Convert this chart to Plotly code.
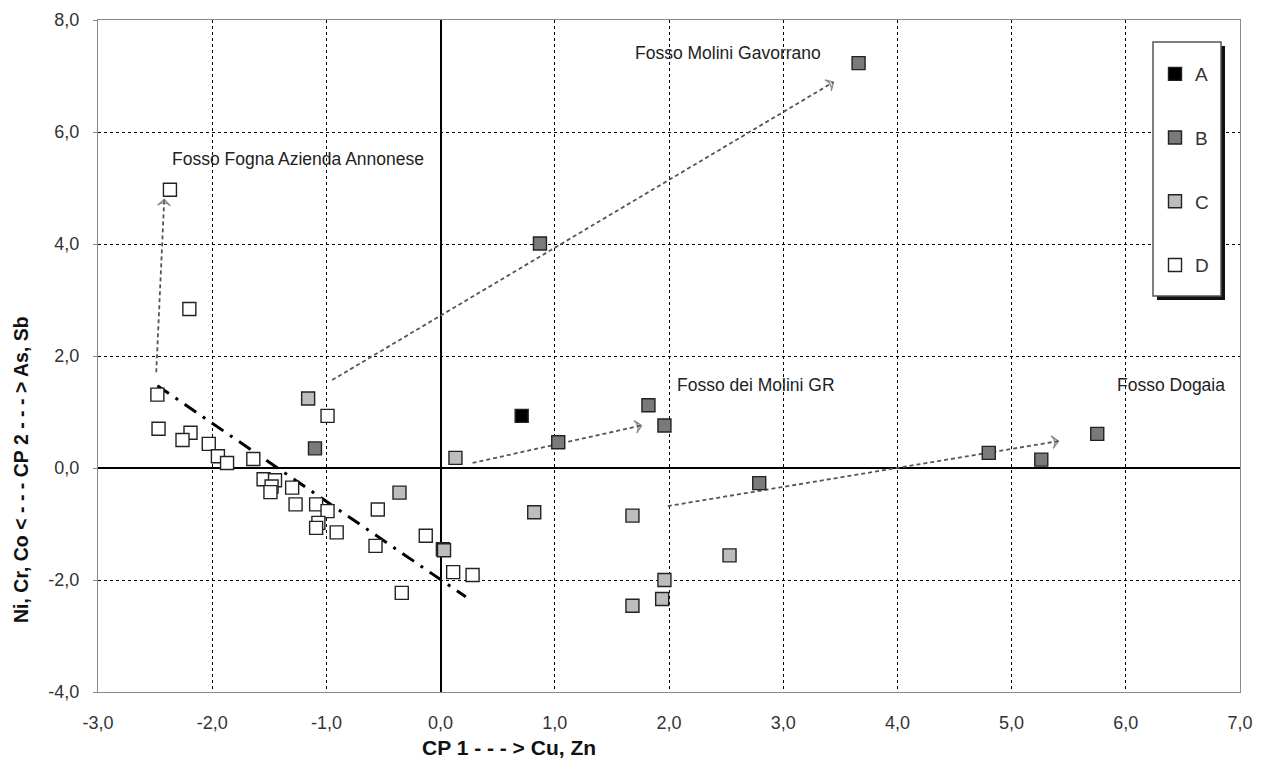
import plotly.graph_objects as go

# ---- data ----
a_x = [0.71]
a_y = [0.93]

b_x = [3.66, 0.87, 1.82, 1.96, 1.03, 2.79, 4.80, 5.26, 5.75, -1.10, 0.02]
b_y = [7.23, 4.01, 1.12, 0.76, 0.46, -0.27, 0.27, 0.15, 0.61, 0.35, -1.45]

c_x = [-1.16, -0.36, 0.13, 0.82, 1.68, 2.53, 1.96, 1.94, 1.68, 0.03]
c_y = [1.24, -0.44, 0.18, -0.79, -0.85, -1.56, -2.00, -2.34, -2.46, -1.47]

d_x = [-2.37, -2.20, -2.48, -0.99, -2.47, -2.19, -2.26, -2.03, -1.95, -1.87, -1.64,
       -1.55, -1.45, -1.48, -1.49, -1.30, -1.27, -1.09, -0.99, -1.07, -1.09, -0.91,
       -0.55, -0.57, -0.13, 0.11, -0.34, 0.28]
d_y = [4.97, 2.84, 1.31, 0.93, 0.70, 0.63, 0.50, 0.43, 0.21, 0.09, 0.16,
       -0.20, -0.22, -0.33, -0.43, -0.35, -0.65, -0.65, -0.77, -0.98, -1.07, -1.15,
       -0.74, -1.39, -1.21, -1.86, -2.23, -1.91]

trend_x = [-2.48, 0.22]
trend_y = [1.47, -2.30]

arrow_names = ["Fosso Fogna Azienda Annonese", "Fosso Molini Gavorrano",
               "Fosso dei Molini GR", "Fosso Dogaia"]
arrow_x0 = [-2.49, -0.95, 0.28, 1.99]
arrow_y0 = [1.71, 1.57, 0.09, -0.68]
arrow_x1 = [-2.42, 3.44, 1.76, 5.41]
arrow_y1 = [4.80, 6.89, 0.76, 0.48]
label_x = [-1.25, 2.52, 2.76, 6.40]
label_y = [5.52, 7.41, 1.48, 1.48]

x_ticks = [-3, -2, -1, 0, 1, 2, 3, 4, 5, 6, 7]
x_ticktext = ["-3,0", "-2,0", "-1,0", "0,0", "1,0", "2,0", "3,0", "4,0", "5,0", "6,0", "7,0"]
y_ticks = [-4, -2, 0, 2, 4, 6, 8]
y_ticktext = ["-4,0", "-2,0", "0,0", "2,0", "4,0", "6,0", "8,0"]

x_title = "CP 1 - - - > Cu, Zn"
y_title = "Ni, Cr, Co < - - - CP 2 - - - > As, Sb"

FONT = "Liberation Sans, Arial, sans-serif"

# page has an 8px body margin; plot area target in screen px: 98..1240 x 20..692
W, H = 1250, 753
PL, PR, PT, PB = 98, 1240, 20, 692
PW, PH = PR - PL, PB - PT

def px(sx):
    return (sx - PL) / PW

def py(sy):
    return (PB - sy) / PH

fig = go.Figure()

# arrows (dashed lines with open arrow head)
for i in range(len(arrow_names)):
    fig.add_trace(go.Scatter(
        x=[arrow_x0[i], arrow_x1[i]], y=[arrow_y0[i], arrow_y1[i]],
        mode="lines+markers",
        line=dict(color="#555555", width=1.8, dash="4px,3px"),
        marker=dict(symbol=["circle", "arrow-wide-open"], size=[0, 9],
                    angleref="previous", color="#555555",
                    line=dict(color="#555555", width=1.3)),
        showlegend=False, hoverinfo="skip"))

# trend line
fig.add_trace(go.Scatter(
    x=trend_x, y=trend_y, mode="lines",
    line=dict(color="black", width=3, dash="14px,8px,3px,8px"),
    showlegend=False, hoverinfo="skip"))

def sq(color):
    return dict(symbol="square", size=13, color=color,
                line=dict(color="#222222", width=1.4))

fig.add_trace(go.Scatter(x=a_x, y=a_y, mode="markers", name="A",
                         marker=sq("black"), legendgroup="A"))
fig.add_trace(go.Scatter(x=b_x, y=b_y, mode="markers", name="B",
                         marker=sq("#7a7a7a"), legendgroup="B"))
fig.add_trace(go.Scatter(x=c_x, y=c_y, mode="markers", name="C",
                         marker=sq("#bdbdbd"), legendgroup="C"))
fig.add_trace(go.Scatter(x=d_x, y=d_y, mode="markers", name="D",
                         marker=sq("white"), legendgroup="D"))

for i in range(len(arrow_names)):
    fig.add_annotation(x=label_x[i], y=label_y[i], text=arrow_names[i],
                       showarrow=False, xref="x", yref="y",
                       font=dict(family=FONT, size=17.5, color="#222222"))

# axis titles as annotations (positioned as in the reference)
fig.add_annotation(x=px(509), y=py(747), xref="paper", yref="paper",
                   xanchor="center", yanchor="middle",
                   text="<b>" + x_title + "</b>", showarrow=False,
                   font=dict(family=FONT, size=21, color="#111111"))
fig.add_annotation(x=px(21), y=py(470), xref="paper", yref="paper",
                   xanchor="center", yanchor="middle",
                   text="<b>" + y_title + "</b>", showarrow=False, textangle=-90,
                   font=dict(family=FONT, size=19.5, color="#111111"))

# legend box with shadow
fig.add_shape(type="rect", xref="paper", yref="paper",
              x0=px(1157), x1=px(1225), y0=py(300), y1=py(46),
              fillcolor="#111111", line=dict(width=0), layer="above")
fig.add_shape(type="rect", xref="paper", yref="paper",
              x0=px(1153), x1=px(1221), y0=py(296), y1=py(42),
              fillcolor="white", line=dict(color="#555555", width=1.5), layer="above")

axis_common = dict(
    showline=True, mirror=True, linecolor="#8a8a8a", linewidth=1,
    showgrid=True, gridcolor="black", gridwidth=1, griddash="3px,3px",
    zeroline=True, zerolinecolor="black", zerolinewidth=1.5,
    tickfont=dict(family=FONT, size=18, color="#333333"),
)

fig.update_xaxes(range=[-3, 7], tickvals=x_ticks, ticktext=x_ticktext,
                 ticks="", ticklabelstandoff=14, automargin=False,
                 **axis_common)
fig.update_yaxes(range=[-4, 8], tickvals=y_ticks, ticktext=y_ticktext,
                 ticks="outside", ticklen=4, tickcolor="#8a8a8a",
                 ticklabelstandoff=10, automargin=False,
                 **axis_common)

fig.update_layout(
    width=W, height=H,
    margin=dict(l=PL - 8, r=W + 8 - PR, t=PT - 8, b=H + 8 - PB),
    plot_bgcolor="white", paper_bgcolor="white",
    font=dict(family=FONT),
    legend=dict(x=px(1155), y=py(55),
                xanchor="left", yanchor="top",
                bgcolor="rgba(0,0,0,0)", borderwidth=0,
                font=dict(family=FONT, size=19, color="#333333"),
                tracegroupgap=36, itemwidth=30),
)

fig.write_html("out.html")
